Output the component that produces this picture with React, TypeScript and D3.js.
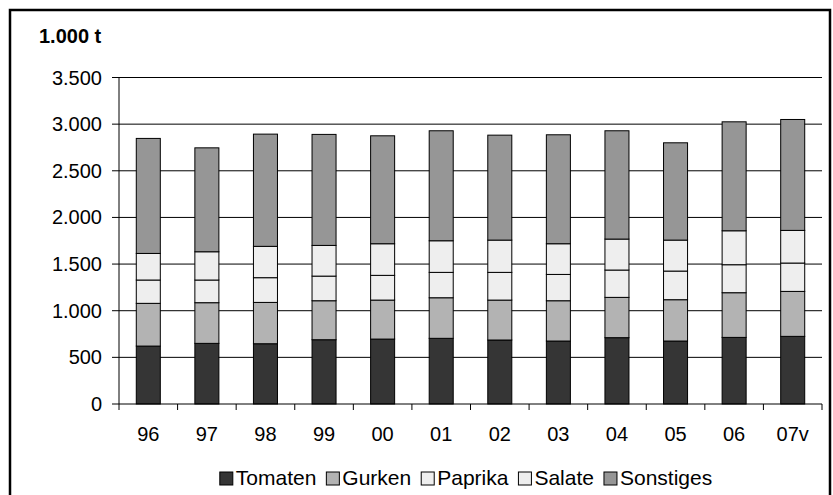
import React from "react";
import * as d3 from "d3";

// Gemüseerzeugung in 1.000 t, gestapelt nach Kulturart
const years = ["96", "97", "98", "99", "00", "01", "02", "03", "04", "05", "06", "07v"];
const tomaten = [621, 650, 646, 689, 696, 704, 686, 675, 711, 675, 714, 725];
const gurken = [458, 436, 443, 418, 418, 435, 428, 432, 432, 443, 479, 482];
const paprika = [250, 243, 265, 264, 265, 272, 297, 282, 293, 307, 300, 304];
const salate = [285, 303, 336, 329, 339, 339, 346, 329, 332, 332, 364, 350];
const sonstiges = [1233, 1114, 1203, 1190, 1157, 1179, 1125, 1168, 1161, 1043, 1168, 1189];

const seriesNames = ["Tomaten", "Gurken", "Paprika", "Salate", "Sonstiges"];
const seriesValues = [tomaten, gurken, paprika, salate, sonstiges];
const seriesColors = ["#353535", "#b3b3b3", "#eeeeee", "#eeeeee", "#969696"];
const yTicks = [0, 500, 1000, 1500, 2000, 2500, 3000, 3500];

const FONT = "'Liberation Sans', Arial, sans-serif";
const W = 833;
const H = 495;

const fmt = (v: number) => d3.format(",")(v).replace(/,/g, ".");

function textWidth(s: string, size: number) {
  const c = document.createElement("canvas").getContext("2d");
  if (!c) return s.length * size * 0.55;
  c.font = `${size}px ${FONT}`;
  return c.measureText(s).width;
}

export default function App() {
  const left = 119;
  const right = 822;
  const top = 77.5;
  const bottom = 404;

  const x = d3.scaleBand<string>().domain(years).range([left, right]).padding(0);
  const y = d3.scaleLinear().domain([0, 3500]).range([bottom, top]);
  const barW = x.bandwidth() * 0.41;

  const rows = years.map((yr, i) => {
    const r: any = { year: yr };
    seriesNames.forEach((n, k) => (r[n] = seriesValues[k][i]));
    return r;
  });
  const stacked = d3.stack<any>().keys(seriesNames)(rows);

  // legend layout
  const legendSize = 21;
  const sq = 13;
  const gapText = 3;
  const gapItem = 10;
  const widths = seriesNames.map((n) => textWidth(n, legendSize));
  const total =
    widths.reduce((a, b) => a + b, 0) + seriesNames.length * (sq + gapText) + (seriesNames.length - 1) * gapItem;
  let lx = 466 - total / 2;
  const legendItems = seriesNames.map((n, i) => {
    const item = { name: n, x: lx, color: seriesColors[i] };
    lx += sq + gapText + widths[i] + gapItem;
    return item;
  });

  return (
    <svg
      width={W}
      height={H}
      style={{ position: "absolute", left: 0, top: 0, background: "#fff" }}
      fontFamily={FONT}
    >
      <rect x={0} y={0} width={W} height={H} fill="#fff" />
      <rect x={10} y={10} width={820} height={520} fill="none" stroke="#000" strokeWidth={2.5} />

      <text x={39} y={43} fontSize={20} fontWeight="bold" fill="#000">
        1.000 t
      </text>

      {/* gridlines and y axis */}
      {yTicks.map((t) => (
        <g key={t}>
          {t > 0 && <line x1={left} x2={right} y1={y(t)} y2={y(t)} stroke="#000" strokeWidth={1} />}
          <line x1={left - 7} x2={left} y1={y(t)} y2={y(t)} stroke="#000" strokeWidth={1} />
          <text x={102} y={y(t)} dy="0.35em" textAnchor="end" fontSize={20} fill="#000">
            {fmt(t)}
          </text>
        </g>
      ))}
      <line x1={left} x2={left} y1={top} y2={bottom} stroke="#000" strokeWidth={1} />

      {/* stacked bars */}
      {stacked.map((layer, k) => (
        <g key={layer.key}>
          {layer.map((d, i) => (
            <rect
              key={i}
              x={(x(years[i]) as number) + x.bandwidth() / 2 - barW / 2}
              y={y(d[1])}
              width={barW}
              height={y(d[0]) - y(d[1])}
              fill={seriesColors[k]}
              stroke="#000"
              strokeWidth={1}
            />
          ))}
        </g>
      ))}

      {/* x axis */}
      <line x1={left} x2={right} y1={bottom} y2={bottom} stroke="#000" strokeWidth={1} />
      {years.map((yr, i) => (
        <line
          key={"t" + i}
          x1={x(yr) as number}
          x2={x(yr) as number}
          y1={bottom}
          y2={bottom + 6}
          stroke="#000"
          strokeWidth={1}
        />
      ))}
      <line x1={right} x2={right} y1={bottom} y2={bottom + 6} stroke="#000" strokeWidth={1} />
      {years.map((yr) => (
        <text
          key={"l" + yr}
          x={(x(yr) as number) + x.bandwidth() / 2}
          y={441}
          textAnchor="middle"
          fontSize={20}
          fill="#000"
        >
          {yr}
        </text>
      ))}

      {/* legend */}
      {legendItems.map((it) => (
        <g key={it.name}>
          <rect x={it.x} y={472} width={sq} height={sq} fill={it.color} stroke="#000" strokeWidth={1} />
          <text x={it.x + sq + gapText} y={485} fontSize={legendSize} fill="#000">
            {it.name}
          </text>
        </g>
      ))}
    </svg>
  );
}
